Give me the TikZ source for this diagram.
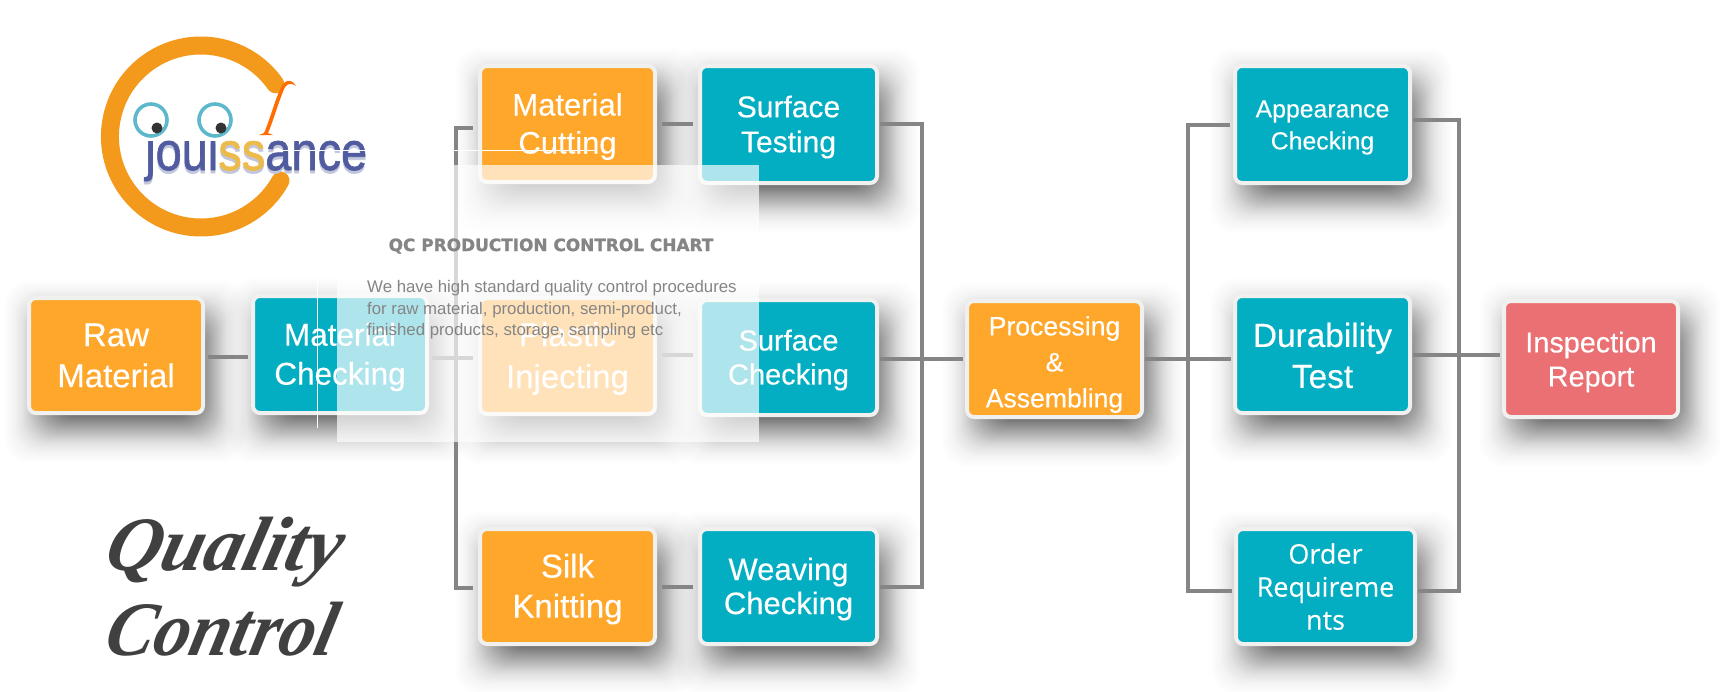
\documentclass[tikz,border=0pt]{standalone}
\usepackage{fontspec}
\setmainfont{Liberation Sans}
\newfontfamily\cardfont[FakeBold=0.25]{Liberation Sans}
\newfontfamily\brandfont[FakeBold=1.2]{Liberation Sans}
\newfontfamily\opensansfont[FakeBold=0.2]{Open Sans}
\newfontfamily\titlefont[FakeBold=1.2]{DejaVu Sans Bold}
\newfontfamily\scriptyfont[FakeSlant=0.25]{Liberation Serif}
\definecolor{qorange}{HTML}{FFA72A}
\definecolor{qteal}{HTML}{04AEC2}
\definecolor{qred}{HTML}{EA7073}
\definecolor{qedge}{HTML}{F0F0EE}
\definecolor{qline}{HTML}{858585}
\definecolor{qring}{HTML}{F39A1D}
\definecolor{qblue}{HTML}{505C9F}
\definecolor{qgold}{HTML}{EDBB4A}
\definecolor{qeye}{HTML}{5DB8CC}
\tikzset{
  x=1pt,y=-1pt,
  qcard/.style={rectangle,rounded corners=7pt,draw=qedge,line width=4pt,inner sep=0pt},
  qtext/.style={inner sep=0pt,text=white,align=center},
  conn/.style={draw=qline,line width=4pt},
  busline/.style={draw=qline,line width=3.2pt},
  thinwhite/.style={draw=white,line width=1pt},
  veil/.style={fill=white,fill opacity=0.68,draw=none}
}
\newcommand\qshadow[4]{%
  \foreach \t in {0,...,55}{%
    \pgfmathsetmacro{\e}{42-\t}%
    \pgfmathsetmacro{\op}{0.0012+0.032*(\t/55)^1.6}%
    \fill[black,opacity=\op,rounded corners=24pt]
      ({#1+9-\e},{#2+16-\e}) rectangle ({#3+9+\e},{#4+16+\e});
  }%
}
\def\qdrop{2.5}
\newcommand\qcbox[9]{%
  \node[qcard,fill=#6,minimum width={(#4-#2+4)*1pt},minimum height={(#5-#3+4)*1pt}] (#1) at ({(#2+#4)/2},{(#3+#5)/2}) {};
  \node[qtext,font=\cardfont\fontsize{#7}{#8}\selectfont,yshift=-\qdrop pt] (#1text) at (#1.center) {#9};
}
\begin{document}
\begin{tikzpicture}
\useasboundingbox (0,0) rectangle (1732,691);
\fill[white] (0,0) rectangle (1732,691);
% shadows
\qshadow{31}{300}{201}{411}
\qshadow{255}{298}{425}{411}
\qshadow{482}{68}{653}{180}
\qshadow{702}{68}{875}{181}
\qshadow{482}{300}{653}{412}
\qshadow{702}{302}{875}{413}
\qshadow{482}{531}{653}{642}
\qshadow{702}{531}{875}{642}
\qshadow{969}{303}{1140}{415}
\qshadow{1237}{68}{1408}{181}
\qshadow{1237}{298}{1408}{411}
\qshadow{1238}{531}{1413}{642}
\qshadow{1506}{303}{1676}{415}
% junction points
\coordinate (jA) at (456,358);
\coordinate (jB) at (922,359);
\coordinate (jC) at (1188,359);
\coordinate (jD) at (1459,355);
% cards
\def\qdrop{0}
\qcbox{raw}{31}{300}{201}{411}{qorange}{33}{41}{Raw\\Material}
\def\qdrop{2.5}
\qcbox{matchk}{255}{298}{425}{411}{qteal}{31.5}{39}{Material\\Checking}
\qcbox{cut}{482}{68}{653}{180}{qorange}{31}{38}{Material\\Cutting}
\qcbox{surft}{702}{68}{875}{181}{qteal}{30}{35}{Surface\\Testing}
\qcbox{plastic}{482}{300}{653}{412}{qorange}{33}{42}{Plastic\\Injecting}
\qcbox{surfc}{702}{302}{875}{413}{qteal}{29}{34}{Surface\\Checking}
\qcbox{silk}{482}{531}{653}{642}{qorange}{33}{40}{Silk\\Knitting}
\qcbox{weave}{702}{531}{875}{642}{qteal}{31}{34}{Weaving\\Checking}
\def\qdrop{5.5}
\qcbox{proc}{969}{303}{1140}{415}{qorange}{26.6}{36}{Processing\\\&\\Assembling}
\def\qdrop{3}
\qcbox{appear}{1237}{68}{1408}{181}{qteal}{24.8}{32}{Appearance\\Checking}
\def\qdrop{1}
\qcbox{durab}{1237}{298}{1408}{411}{qteal}{33.4}{41}{Durability\\Test}
\def\qdrop{0}
\qcbox{order}{1238}{531}{1413}{642}{qteal}{27}{33}{\opensansfont Order\\\opensansfont Requireme\\\opensansfont nts}
\def\qdrop{3}
\qcbox{report}{1506}{303}{1676}{415}{qred}{28.8}{34}{Inspection\\Report}
% connectors
\draw[conn] ([xshift=3pt,yshift=-1.5pt]raw.east) -- ([xshift=-3pt,yshift=-2.5pt]matchk.west);
\draw[conn] ([xshift=3pt,yshift=-3.5pt]matchk.east) -- (jA) -- ([xshift=-5pt,yshift=-2pt]plastic.west);
\draw[busline] ([xshift=-5pt,yshift=-4pt]cut.west) -| (jA);
\draw[busline] ([xshift=-5pt,yshift=-1.5pt]silk.west) -| (jA);
\draw[conn] ([xshift=5pt,yshift=0pt]cut.east) -- ([xshift=-5pt,yshift=0.5pt]surft.west);
\draw[conn] ([xshift=5pt,yshift=1pt]plastic.east) -- ([xshift=-5pt,yshift=2.5pt]surfc.west);
\draw[conn] ([xshift=5pt,yshift=-0.5pt]silk.east) -- ([xshift=-5pt,yshift=-0.5pt]weave.west);
\draw[busline] ([xshift=1pt,yshift=0.5pt]surft.east) -| (jB);
\draw[busline] ([xshift=1pt,yshift=-0.5pt]weave.east) -| (jB);
\draw[conn] ([xshift=1pt,yshift=-1.5pt]surfc.east) -- (jB) -- ([xshift=-2pt]proc.west);
\draw[conn] ([xshift=1pt]proc.east) -- (jC) -- ([xshift=-2pt,yshift=-4.5pt]durab.west);
\draw[busline] ([xshift=-3pt,yshift=-0.5pt]appear.west) -| (jC);
\draw[busline] ([xshift=-2pt,yshift=-4.5pt]order.west) -| (jC);
\draw[busline] ([xshift=1pt,yshift=4.5pt]appear.east) -| (jD);
\draw[busline] ([xshift=1pt,yshift=-4.5pt]order.east) -| (jD);
\draw[conn] ([xshift=1pt,yshift=-0.5pt]durab.east) -- (jD) -- ([xshift=-2pt,yshift=4pt]report.west);
% translucent panel
\fill[veil] (454,165) rectangle (759,442);
\fill[veil] (337,263) rectangle (454,442);
\node[inner sep=0pt,text=qline,font=\titlefont\fontsize{16.9}{18}\selectfont] (qctitle) at (551,246) {QC PRODUCTION CONTROL CHART};
\node[inner sep=0pt,anchor=north west,text=qline,align=left,font=\fontsize{16.8}{21.2}\selectfont] (qcbody) at (367,280.5) {We have high standard quality control procedures\\for raw material, production, semi-product,\\finished products, storage, sampling etc};
\coordinate (w1) at (280,150); \coordinate (w2) at (595,150);
\coordinate (w3) at (317,260); \coordinate (w4) at (317,428);
\draw[thinwhite] (w3) -- (w4);
% logo
\draw[qring,line width=18pt,line cap=round] (275.5,84.3) arc[start angle=35,end angle=331,radius=91pt];
\fill[orange!85!red] (259,135) -- (264,133) .. controls (270,120) and (276,95) .. (283,84) .. controls (287,79) and (293,80) .. (296,86) .. controls (292,83) and (288,83) .. (285,87) .. controls (279,100) and (273,122) .. (268,133) -- (273,135) -- cycle;
\node[inner sep=0pt,anchor=base west,text=qblue!35] (brandshade) at (145,173) {\brandfont\fontsize{54}{60}\selectfont\scalebox{0.87}[1]{jouissance}};
\node[inner sep=0pt,anchor=base west] (brand) at (145,170) {\brandfont\fontsize{54}{60}\selectfont\scalebox{0.87}[1]{\textcolor{qblue}{joui}\textcolor{qgold}{ss}\textcolor{qblue}{ance}}};
\fill[white] (142,126) rectangle (240,140);
\draw[qeye,line width=3.6pt] (151,120) circle[radius=16pt];
\draw[qeye,line width=3.6pt] (215,120) circle[radius=16pt];
\fill[black!80] (157,128) circle[radius=5.5pt];
\fill[black!80] (221,128) circle[radius=5.5pt];
\draw[thinwhite] (w1) -- (w2);
% script title
\node[inner sep=0pt,anchor=base west,text=black!75,font=\scriptyfont\bfseries\itshape\fontsize{77}{80}\selectfont] (qline1) at (102,570) {Quality};
\node[inner sep=0pt,anchor=base west,text=black!75,font=\scriptyfont\bfseries\itshape\fontsize{77}{80}\selectfont] (qline2) at (102,655) {\scalebox{0.94}[1]{Control}};
\end{tikzpicture}
\end{document}
